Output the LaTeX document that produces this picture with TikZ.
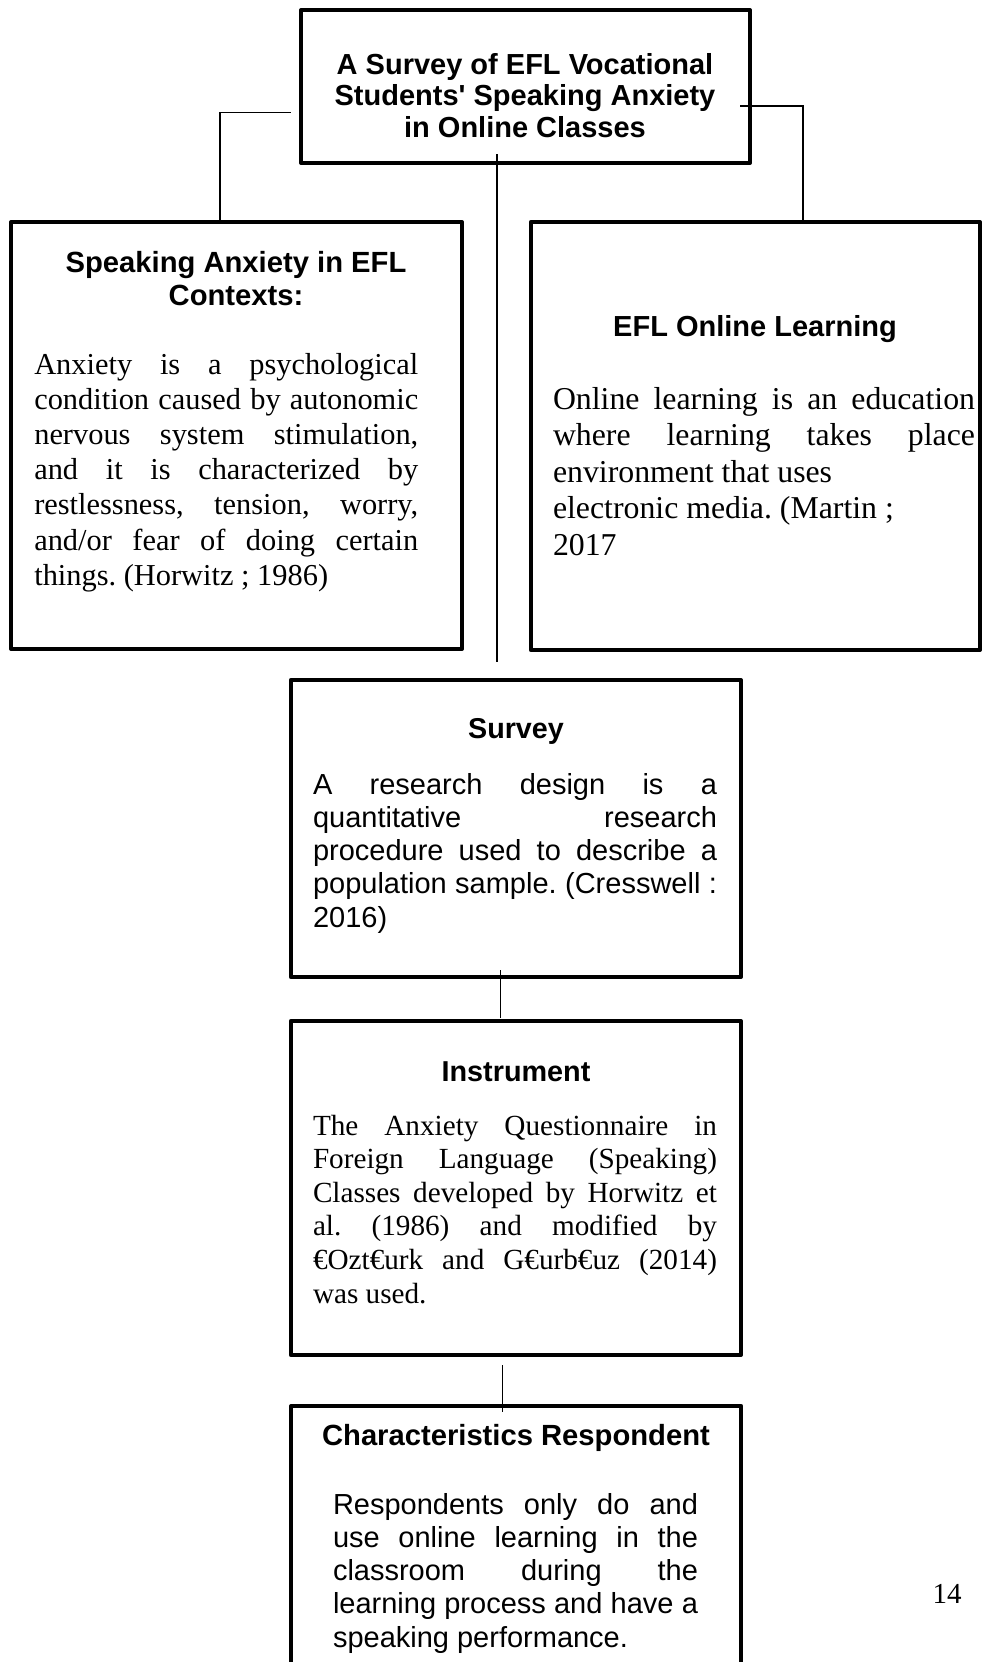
\documentclass[tikz,border=0pt]{standalone}
\usepackage{fontspec}
\setmainfont{Liberation Serif}
\setsansfont{Liberation Sans}
\newcommand\jl[1]{\hbox to\hsize{#1}}
\newcommand\nl[1]{\hbox{#1}}
\newcommand\cl[1]{\hbox to\hsize{\hfil#1\hfil}}
\newcommand\st{\rule{0pt}{25pt}}
\frenchspacing
\hbadness=10000
\hfuzz=100pt
\begin{document}
\begin{tikzpicture}[x=1pt,y=-1pt,
  box/.style={draw, line width=4pt, line join=round, rectangle, inner sep=0pt, outer sep=0pt, anchor=north west},
  conn/.style={draw, line width=1.4pt},
  txt/.style={inner sep=0pt, outer sep=0pt, anchor=north west},
  ttxt/.style={inner sep=0pt, outer sep=0pt, anchor=north}]
\useasboundingbox (0,0) rectangle (982,1662);
% boxes
\node[box, minimum width=449pt, minimum height=153pt] (top) at (301,10) {};
\node[box, minimum width=450.7pt, minimum height=427pt] (lbox) at (11.3,222) {};
\node[box, minimum width=449.3pt, minimum height=428pt] (rbox) at (530.7,222) {};
\node[box, minimum width=450.3pt, minimum height=297pt] (sbox) at (290.7,680) {};
\node[box, minimum width=450.3pt, minimum height=334pt] (ibox) at (290.7,1021) {};
\node[box, minimum width=450.3pt, minimum height=300pt] (cbox) at (291,1406) {};
% texts
\node[ttxt] (ttl) at (525,49) {\vbox{\hsize=440pt\sffamily\bfseries\fontsize{29}{31.5}\selectfont
  \cl{\st A Survey of EFL Vocational}
  \cl{Students\textquotesingle{} Speaking Anxiety}
  \cl{in Online Classes}}};
\node[ttxt] (lt) at (236,247.7) {\vbox{\hsize=440pt\sffamily\bfseries\fontsize{29.2}{32.3}\selectfont
  \cl{\st Speaking Anxiety in EFL}
  \cl{Contexts:}}};
\node[txt] (lb) at (34.3,349) {\vbox{\hsize=384pt\rmfamily\fontsize{30.4}{35.2}\selectfont
  \jl{\st Anxiety is a psychological}
  \jl{condition caused by autonomic}
  \jl{nervous system stimulation,}
  \jl{and it is characterized by}
  \jl{restlessness, tension, worry,}
  \jl{and/or fear of doing certain}
  \nl{things. (Horwitz ; 1986)}}};
\node[ttxt] (rt) at (755,311) {\vbox{\hsize=440pt\sffamily\bfseries\fontsize{29}{32}\selectfont
  \cl{\st EFL Online Learning}}};
\node[txt] (rb) at (553,384) {\vbox{\hsize=422pt\rmfamily\fontsize{31.8}{36.5}\selectfont
  \jl{\st Online learning is an education}
  \jl{where learning takes place}
  \nl{environment that uses}
  \nl{electronic media. (Martin ;}
  \nl{2017}}};
\node[ttxt] (svt) at (516,713) {\vbox{\hsize=440pt\sffamily\bfseries\fontsize{28.7}{32}\selectfont
  \cl{\st Survey}}};
\node[txt] (svb) at (313,769) {\vbox{\hsize=404pt\sffamily\fontsize{29}{33.3}\selectfont
  \jl{\st A research design is a}
  \jl{quantitative research}
  \jl{procedure used to describe a}
  \jl{population sample. (Cresswell :}
  \nl{2016)}}};
\node[ttxt] (int) at (516,1056) {\vbox{\hsize=440pt\sffamily\bfseries\fontsize{28.8}{32}\selectfont
  \cl{\st Instrument}}};
\node[txt] (inb) at (313,1110) {\vbox{\hsize=404pt\rmfamily\fontsize{29.2}{33.6}\selectfont
  \jl{\st The Anxiety Questionnaire in}
  \jl{Foreign Language (Speaking)}
  \jl{Classes developed by Horwitz et}
  \jl{al. (1986) and modified by}
  \jl{€Ozt€urk and G€urb€uz (2014)}
  \nl{was used.}}};
\node[ttxt] (cht) at (516,1420) {\vbox{\hsize=440pt\sffamily\bfseries\fontsize{29.2}{32}\selectfont
  \cl{\st Characteristics Respondent}}};
\node[txt] (chb) at (333,1489) {\vbox{\hsize=365pt\sffamily\fontsize{29}{33.3}\selectfont
  \jl{\st Respondents only do and}
  \jl{use online learning in the}
  \jl{classroom during the}
  \jl{learning process and have a}
  \nl{speaking performance.}}};
\node[inner sep=0pt, anchor=base, font=\rmfamily\fontsize{29}{32}\selectfont] (pg) at (947,1603) {14};
% connectors
\coordinate (lA) at (290.7,112.7);
\coordinate (lB) at (220,222);
\coordinate (rA) at (740,106);
\coordinate (rB) at (803,220.5);
\coordinate (rC) at (867,220.5);
\coordinate (cA) at (497,154);
\coordinate (cB) at (497,662);
\coordinate (sA) at (500.7,970);
\coordinate (sB) at (500.7,1018);
\coordinate (iA) at (502.7,1365);
\coordinate (iB) at (502.7,1412);
\draw[conn] (lA) -| (lB);
\draw[conn] (rA) -| (rB) -- (rC);
\draw[conn] (cA) -- (cB);
\draw[conn] (sA) -- (sB);
\draw[conn] (iA) -- (iB);
\end{tikzpicture}
\end{document}
